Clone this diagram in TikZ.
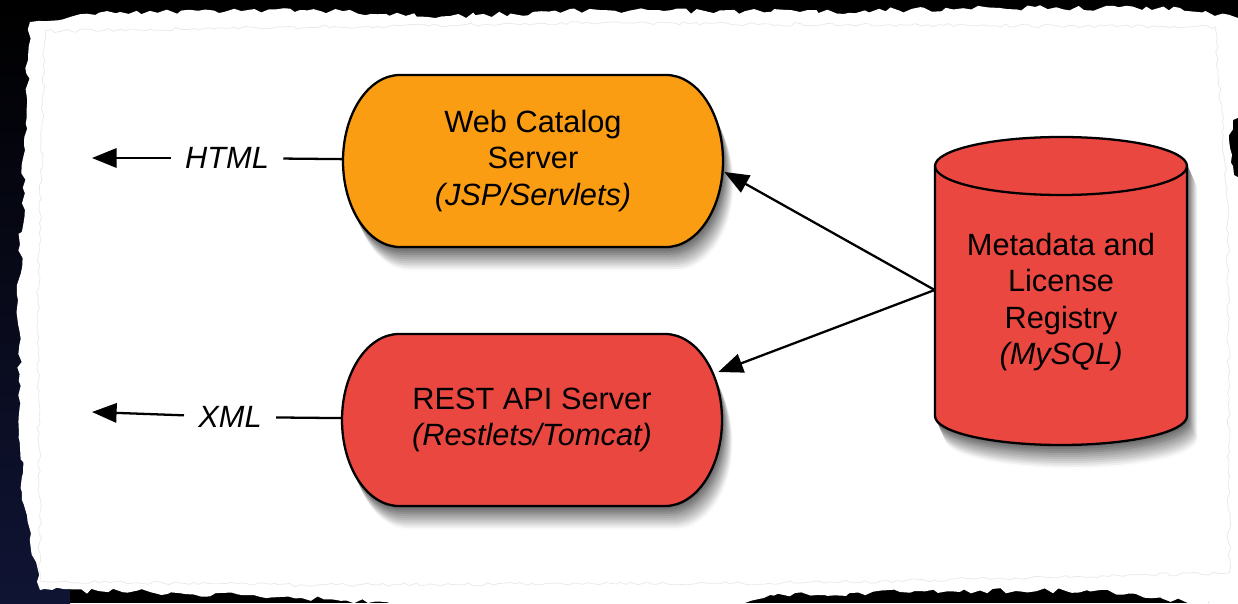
\documentclass[tikz,border=0pt]{standalone}
\usepackage{fontspec}
\setmainfont{Liberation Sans}
\usepackage{tikz}
\usetikzlibrary{arrows.meta,decorations.pathmorphing}
\definecolor{weborange}{RGB}{250,157,18}
\definecolor{restred}{RGB}{234,71,65}
\definecolor{bgnavy}{RGB}{16,20,52}
\newcommand{\dfont}{\fontsize{17.5}{20.8}\selectfont}
\tikzset{
box/.style={rectangle,align=center,minimum width=7.6cm,minimum height=3.44cm,inner sep=0pt},
dbbox/.style={rectangle,align=center,minimum width=5.04cm,inner sep=0pt},
lab/.style={font=\dfont\itshape,inner xsep=8pt,inner ysep=2pt},
wire/.style={line width=1.3pt},
conn/.style={line width=1.3pt,-{Triangle[length=14pt,width=11pt]}}
}
\newcommand{\pill}[5]{
\foreach \d [evaluate=\d as \g using int(64-2.6*\d)] in {24,22,...,2}
  \fill[black!\g,shift={(.45*\d,-\d)}] (#2-133,#3+86)--(#2+133,#3+86) arc[start angle=90,end angle=-90,x radius=57,y radius=86]
  --(#2-133,#3-86) arc[start angle=270,end angle=90,x radius=57,y radius=86]-- cycle;
\draw[line width=1.3pt,fill=#4] (#2-133,#3+86)--(#2+133,#3+86) arc[start angle=90,end angle=-90,x radius=57,y radius=86]
  --(#2-133,#3-86) arc[start angle=270,end angle=90,x radius=57,y radius=86]-- cycle;
\node[box] (#1) at (#2,#3) {#5};
}
\newcommand{\dbcyl}[5]{
\foreach \d [evaluate=\d as \g using int(64-2.6*\d)] in {24,22,...,2}
  \fill[black!\g,shift={(.45*\d,-\d)}] (#1-#3,#2)--(#1-#3,#2-250) arc[start angle=180,end angle=360,x radius=#3,y radius=#4]
  --(#1+#3,#2) arc[start angle=0,end angle=180,x radius=#3,y radius=#4]-- cycle;
\draw[line width=1.3pt,fill=#5] (#1-#3,#2)--(#1-#3,#2-250) arc[start angle=180,end angle=360,x radius=#3,y radius=#4]
  --(#1+#3,#2) arc[start angle=0,end angle=180,x radius=#3,y radius=#4]-- cycle;
\draw[line width=1.3pt] (#1-#3,#2) arc[start angle=180,end angle=360,x radius=#3,y radius=#4];
}

\begin{document}
\begin{tikzpicture}[x=0.02cm,y=0.02cm,every node/.style={font=\dfont}]
\useasboundingbox (0,0) rectangle (1238,603);
\fill[black] (0,0) rectangle (1238,603);
\shade[bottom color=bgnavy,top color=black] (0,0) rectangle (70,603);
\pgfmathsetseed{11}
\fill[white,decorate,decoration={random steps,segment length=4pt,amplitude=1.6pt}]
  (30,581)--(120,591)--(300,593)--(450,587)--(600,593)--(800,591)--(1000,595)--(1180,595)--(1238,585)
  --(1248,580)--(1248,490)--(1233,483)--(1230,455)--(1234,428)--(1248,420)--(1248,-8)
  --(1100,13)--(900,11)--(770,8)--(700,-8)--(500,-8)--(300,5)
  --(150,11)--(40,13)--(22,103)--(18,303)--(25,453)--(28,543)--cycle;
\draw[gray!18,line width=.4pt,decorate,decoration={random steps,segment length=3pt,amplitude=1pt}]
  (45,572)--(600,580)--(1215,576)--(1228,400)--(1229,30)--(800,20)--(300,18)--(40,22)--(38,300)--cycle;

\pill{web}{533}{442}{weborange}{Web Catalog\\Server\\\textit{(JSP/Servlets)}}
\pill{rest}{532}{183}{restred}{REST API Server\\\textit{(Restlets/Tomcat)}}
\dbcyl{1061}{437}{126}{29}{restred}
\node[dbbox] (db) at (1061,301) {Metadata and\\License\\Registry\\\textit{(MySQL)}};
\coordinate (dbport) at ([shift={(0,12)}]db.west);

\path (227,445) node[lab] (html) {HTML};
\path (230,186) node[lab] (xml) {XML};
\coordinate (htmlout) at (92,445);
\coordinate (xmlout) at (92,191);

\draw[wire] (html) -- (web);
\draw[conn] (html) -- (htmlout);
\draw[wire] (xml) -- (rest);
\draw[conn] (xml) -- (xmlout);
\draw[conn] (dbport) -- ([shift={(1,-11)}]web.east);
\draw[conn] (dbport) -- ([shift={(-4,48)}]rest.east);
\end{tikzpicture}
\end{document}
